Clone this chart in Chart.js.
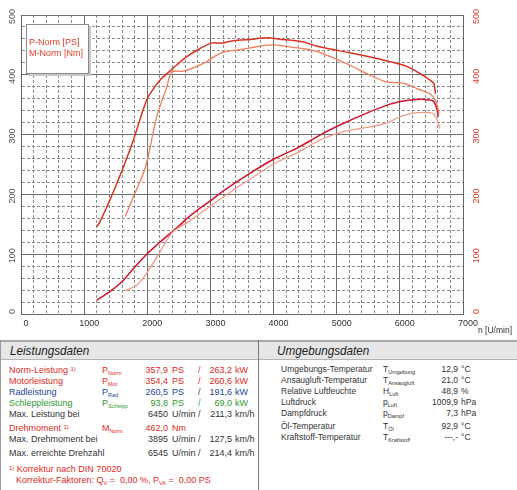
<!DOCTYPE html>
<html>
<head>
<meta charset="utf-8">
<script src="https://cdn.jsdelivr.net/npm/chart.js@4.4.1/dist/chart.umd.min.js"></script>
<style>
  body { margin: 0; background: #fff; font-family: "Liberation Sans", Arial, sans-serif; }
  #wrap { position: relative; width: 517px; height: 490px; overflow: hidden; }
  #chart { position: absolute; left: 0; top: 0; }
  .line { position: absolute; }
  .t { position: absolute; white-space: nowrap; line-height: 12px; }
  .r { text-align: right; }
  sub { font-size: 5.5px; vertical-align: -2px; line-height: 0; }
  sup { font-size: 6px; vertical-align: 2px; line-height: 0; }
  .hdr { position: absolute; font-style: italic; font-size: 13px; color: #222; line-height: 17px; top: 342px;
         transform: scaleX(0.9); transform-origin: left center; }
</style>
</head>
<body>
<div id="wrap">
  <canvas id="chart" width="517" height="340"></canvas>
  <div class="line" style="left:0;top:340px;width:517px;height:2px;background:#a8a8a8"></div>
  <div class="line" style="left:0;top:342px;width:517px;height:17px;background:#e6e6e6"></div>
  <div class="line" style="left:0;top:359px;width:517px;height:1px;background:#b4b4b4"></div>
  <div class="line" style="left:0;top:340px;width:1px;height:150px;background:#9a9a9a"></div>
  <div class="line" style="left:258px;top:340px;width:1px;height:150px;background:#7a7a7a"></div>
  <div class="hdr" style="left:10px">Leistungsdaten</div>
  <div class="hdr" style="left:277px">Umgebungsdaten</div>
</div>
<script>
// ====== CURVE DATA ======
// M-Norm [Nm], current run
const rpmTorqueA = [1200, 1250, 1410, 1600, 1780, 1990, 2100, 2200, 2410, 2620, 2835, 3020, 3200, 3260, 3470, 3630, 3890, 4155, 4470, 4680, 5050, 5475, 5845, 6110, 6320, 6480, 6540, 6555, 6565];
const torqueA    = [146, 154, 191, 240, 291, 358, 377, 391, 411, 430, 444, 453, 453, 455, 458, 459, 462, 459, 455, 448, 440, 431, 422, 414, 402, 391, 385, 376, 368];
// M-Norm [Nm], comparison run
const rpmTorqueB = [1650, 1780, 1970, 2150, 2310, 2390, 2570, 2780, 2940, 3100, 3260, 3470, 3630, 3785, 4000, 4310, 4580, 4840, 5210, 5475, 5790, 6055, 6270, 6480, 6560, 6600, 6620];
const torqueB    = [163, 196, 245, 330, 380, 405, 406, 414, 422, 433, 439, 442, 445, 448, 450, 446, 442, 433, 416, 402, 388, 386, 377, 368, 358, 346, 335];
// P-Norm [PS], current run
const rpmPowerA = [1200, 1400, 1590, 1800, 1990, 2200, 2410, 2520, 2620, 2835, 3020, 3205, 3575, 4020, 4365, 4735, 5050, 5475, 5845, 6110, 6320, 6450, 6530, 6580, 6610];
const powerA    = [23, 37, 53, 78, 100, 120, 139, 149, 159, 177, 191, 206, 232, 260, 277, 299, 316, 336, 351, 357, 359, 358, 356, 345, 330];
// P-Norm [PS], comparison run
const rpmPowerB = [1650, 1830, 1990, 2175, 2330, 2410, 2520, 2620, 3020, 3360, 3575, 4020, 4365, 4735, 5105, 5475, 5790, 6000, 6210, 6425, 6540, 6600, 6635];
const powerB    = [39, 48, 68, 99, 127, 138, 146, 152, 182, 207, 222, 252, 269, 291, 305, 312, 319, 330, 336, 337, 334, 322, 310];

const yTicks = [0, 100, 200, 300, 400, 500];
const legendLabels = ["P-Norm [PS]", "M-Norm [Nm]"];

// ====== TABLE TEXT ======
const leftLabels = ["Norm-Leistung", "Motorleistung", "Radleistung", "Schleppleistung", "Max. Leistung bei", "Drehmoment", "Max. Drehmoment bei", "Max. erreichte Drehzahl"];
const leftSymbols = [["P", "Norm"], ["P", "Mot"], ["P", "Rad"], ["P", "Schlepp"], null, ["M", "Norm"], null, null];
const leftVal1 = ["357,9", "354,4", "260,5", "93,8", "6450", "462,0", "3895", "6545"];
const leftUnit1 = ["PS", "PS", "PS", "PS", "U/min /", "Nm", "U/min /", "U/min /"];
const leftVal2 = ["263,2", "260,6", "191,6", "69,0", "211,3", "", "127,5", "214,4"];
const leftUnit2 = ["kW", "kW", "kW", "kW", "km/h", "", "km/h", "km/h"];
const rightLabels = ["Umgebungs-Temperatur", "Ansaugluft-Temperatur", "Relative Luftfeuchte", "Luftdruck", "Dampfdruck", "Öl-Temperatur", "Kraftstoff-Temperatur"];
const rightSymbols = [["T", "Umgebung"], ["T", "Ansaugluft"], ["H", "Luft"], ["p", "Luft"], ["p", "Dampf"], ["T", "Öl"], ["T", "Kraftstoff"]];
const rightVals = ["12,9", "21,0", "48,9", "1009,9", "7,3", "92,9", "---,-"];
const rightUnits = ["°C", "°C", "%", "hPa", "hPa", "°C", "°C"];

const RED = "#e3281c", BLUE = "#24469c", GREEN = "#2f9a2f", GREY = "#333";

function pts(xs, ys) {
  return xs.map((x, i) => ({ x: x, y: ys[i] }));
}

// ---- chart ----
const labelPlugin = {
  id: "dynoLabels",
  afterDraw(chart) {
    const ctx = chart.ctx;
    const y = chart.scales.y;
    ctx.save();
    ctx.font = "9px 'Liberation Sans', Arial, sans-serif";
    ctx.textAlign = "center";
    ctx.textBaseline = "middle";
    for (const v of yTicks) {
      let py = y.getPixelForValue(v) + 1.5;
      if (v === 0) py -= 4;
      [[13, "#555"], [477, "#e03a24"]].forEach(([px, col]) => {
        ctx.save();
        ctx.translate(px, py);
        ctx.rotate(-Math.PI / 2);
        ctx.fillStyle = col;
        ctx.fillText(String(v), 0, 0);
        ctx.restore();
      });
    }
    // axis unit
    ctx.textAlign = "left";
    ctx.fillStyle = "#333";
    ctx.font = "8.5px 'Liberation Sans', Arial, sans-serif";
    ctx.fillText("n [U/min]", 478, 331);

    // legend box inside the plot
    ctx.fillStyle = "#c8c8c8";
    ctx.fillRect(28, 26, 63, 50);
    ctx.fillStyle = "#fff";
    ctx.fillRect(26, 24, 63, 50);
    ctx.strokeStyle = "#8a8a8a";
    ctx.lineWidth = 1;
    ctx.strokeRect(26.5, 24.5, 62, 49);
    ctx.fillStyle = "#e4402a";
    ctx.font = "9px 'Liberation Sans', Arial, sans-serif";
    ctx.fillText(legendLabels[0], 29, 43);
    ctx.fillText(legendLabels[1], 29, 54);
    ctx.restore();
  }
};

new Chart(document.getElementById("chart"), {
  type: "line",
  data: {
    datasets: [
      { label: "M-Norm B", data: pts(rpmTorqueB, torqueB), borderColor: "#f27c58", borderWidth: 1.3 },
      { label: "P-Norm B", data: pts(rpmPowerB, powerB), borderColor: "#f39a86", borderWidth: 1.3 },
      { label: "M-Norm A", data: pts(rpmTorqueA, torqueA), borderColor: "#dc3222", borderWidth: 1.5 },
      { label: "P-Norm A", data: pts(rpmPowerA, powerA), borderColor: "#d3142c", borderWidth: 1.5 },
    ],
  },
  options: {
    responsive: false,
    animation: false,
    layout: { padding: { top: 15, left: 0, right: 0, bottom: 0 } },
    elements: { point: { radius: 0 }, line: { tension: 0.3, fill: false } },
    plugins: { legend: { display: false }, tooltip: { enabled: false } },
    scales: {
      x: {
        type: "linear",
        min: 0,
        max: 7000,
        afterFit: (s) => { s.height = 26; },
        ticks: {
          stepSize: 200,
          autoSkip: false,
          maxRotation: 0,
          padding: 4,
          labelOffset: 5,
          color: "#333",
          font: { size: 9, family: "'Liberation Sans', Arial, sans-serif" },
          callback: (v) => (v % 1000 === 0 ? String(v) : ""),
        },
        grid: {
          drawTicks: false,
          color: (c) => (c.tick && c.tick.value % 1000 === 0 ? "#707070" : "#8c8c8c"),
        },
        border: {
          color: "#666",
          dash: (c) => (c.tick && c.tick.value % 1000 !== 0 ? [3, 2] : []),
        },
      },
      y: {
        position: "left",
        min: 0,
        max: 500,
        afterFit: (s) => { s.width = 21; },
        ticks: { stepSize: 20, display: false },
        grid: {
          drawTicks: false,
          color: (c) => (c.tick && c.tick.value % 100 === 0 ? "#707070" : "#8c8c8c"),
        },
        border: {
          color: "#666",
          dash: (c) => (c.tick && c.tick.value % 100 !== 0 ? [3, 2] : []),
        },
      },
      y2: {
        position: "right",
        min: 0,
        max: 500,
        afterFit: (s) => { s.width = 54; },
        ticks: { stepSize: 100, display: false },
        grid: { drawOnChartArea: false, drawTicks: false },
        border: { color: "#666" },
      },
    },
  },
  plugins: [labelPlugin],
});

// ---- table ----
const wrap = document.getElementById("wrap");
function put(html, x, yc, opts) {
  const el = document.createElement("div");
  el.className = "t";
  el.innerHTML = html;
  el.style.top = (yc - 6) + "px";
  el.style.fontSize = (opts.size || 9) + "px";
  el.style.color = opts.color || GREY;
  if (opts.right) {
    el.classList.add("r");
    el.style.right = (517 - x) + "px";
  } else {
    el.style.left = x + "px";
  }
  wrap.appendChild(el);
}
function sym(s) {
  return s ? s[0] + "<sub>" + s[1] + "</sub>" : "";
}

const leftY = [370, 381, 392, 403, 414, 428, 439, 453];
const leftColors = [RED, RED, BLUE, GREEN, GREY, RED, GREY, GREY];
leftLabels.forEach((lab, i) => {
  const c = leftColors[i];
  const note = (i === 0 || i === 5) ? " <sup>1)</sup>" : "";
  put(lab + note, 9, leftY[i], { color: c });
  if (leftSymbols[i]) put(sym(leftSymbols[i]), 102, leftY[i], { color: c });
  put(leftVal1[i], 168, leftY[i], { color: c, right: true });
  put(leftUnit1[i], 172, leftY[i], { color: c });
  if (i < 4) put("/", 198, leftY[i], { color: c });
  if (leftVal2[i]) put(leftVal2[i], 232, leftY[i], { color: c, right: true });
  if (leftUnit2[i]) put(leftUnit2[i], 235, leftY[i], { color: c });
});
put("<sup>1)</sup> Korrektur nach DIN 70020", 9, 469, { color: RED });
put("Korrektur-Faktoren: Q<sub>V</sub> = &nbsp;0,00 %, P<sub>VA</sub> = &nbsp;0,00 PS", 16, 480, { color: RED });

const rightY = [369, 380, 391, 402, 413, 426, 437];
rightLabels.forEach((lab, i) => {
  put(lab, 281, rightY[i], { size: 8.5 });
  put(sym(rightSymbols[i]), 383, rightY[i], { size: 8.5 });
  put(rightVals[i], 458, rightY[i], { size: 8.5, right: true });
  put(rightUnits[i], 461, rightY[i], { size: 8.5 });
});
</script>
</body>
</html>
